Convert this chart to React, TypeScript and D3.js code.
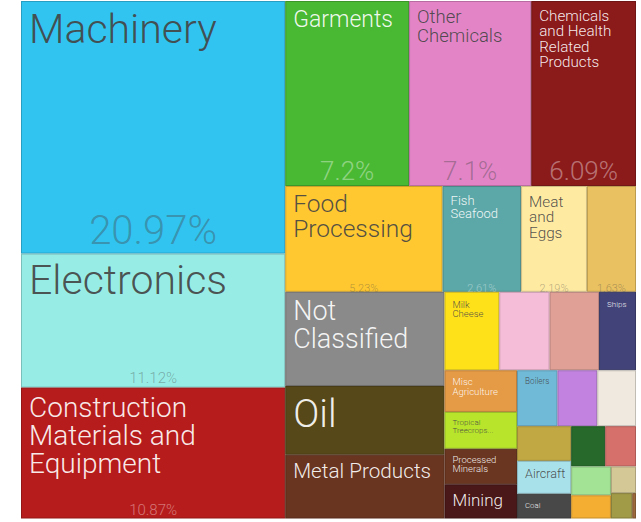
import React from "react";
import * as d3 from "d3";

// ---------- data ----------
const categories: string[] = [
  "Machinery", "Electronics", "Construction Materials and Equipment",
  "Garments", "Other Chemicals", "Chemicals and Health Related Products",
  "Food Processing", "Fish Seafood", "Meat and Eggs", "Cereals and Vegetable Oils",
  "Not Classified", "Oil", "Metal Products",
  "Milk Cheese", "Textile and Fabrics", "Home and Office", "Ships",
  "Misc Agriculture", "Tropical Treecrops and Flowers", "Processed Minerals", "Mining",
  "Boilers", "Leather", "Stone and Glass",
  "Petrochemicals", "Aircraft", "Coal",
  "Vegetables", "Misc Food",
  "Animal Fodder", "Cotton, Rice, Soy and Others",
  "Animal Fibers",
  "Tobacco", "Pulp and Paper",
];

const values: number[] = [
  20.97, 11.12, 10.87,
  7.2, 7.1, 6.09,
  5.23, 2.61, 2.19, 1.63,
  4.71, 3.44, 3.19,
  1.35, 1.24, 1.22, 0.91,
  0.95, 0.84, 0.81, 0.78,
  0.71, 0.70, 0.68,
  0.59, 0.56, 0.42,
  0.43, 0.39,
  0.36, 0.29,
  0.21,
  0.17, 0.03,
];

// strips of the layout: [orientation, number of cells]
const stripPlan: [string, number][] = [
  ["slice", 3], ["dice", 3], ["dice", 4], ["slice", 3], ["dice", 4], ["slice", 4],
  ["dice", 3], ["slice", 3], ["dice", 2], ["slice", 2], ["dice", 1], ["dice", 2],
];

// ---------- styles ----------
const fills: Record<string, string> = {
  "Machinery": "#31c4f1",
  "Electronics": "#97ede6",
  "Construction Materials and Equipment": "#b71c1c",
  "Garments": "#49b833",
  "Other Chemicals": "#e384c7",
  "Chemicals and Health Related Products": "#8b1a1b",
  "Food Processing": "#ffc830",
  "Fish Seafood": "#5ca8a8",
  "Meat and Eggs": "#ffeaa2",
  "Cereals and Vegetable Oils": "#e9c160",
  "Not Classified": "#8a8a8a",
  "Oil": "#574819",
  "Metal Products": "#6a3520",
  "Milk Cheese": "#ffe11a",
  "Textile and Fabrics": "#f6bdd8",
  "Home and Office": "#e0a096",
  "Ships": "#424479",
  "Misc Agriculture": "#e59a45",
  "Tropical Treecrops and Flowers": "#b8e42b",
  "Processed Minerals": "#6a3621",
  "Mining": "#4a1818",
  "Boilers": "#70bad8",
  "Leather": "#c183df",
  "Stone and Glass": "#efe9df",
  "Petrochemicals": "#c2a843",
  "Aircraft": "#a9e1eb",
  "Coal": "#484848",
  "Vegetables": "#26692a",
  "Misc Food": "#d6706b",
  "Animal Fodder": "#a3e395",
  "Cotton, Rice, Soy and Others": "#f4af33",
  "Animal Fibers": "#d5c897",
  "Tobacco": "#a19a47",
  "Pulp and Paper": "#9c6a3c",
};

const lightText = new Set<string>([
  "Construction Materials and Equipment", "Garments", "Chemicals and Health Related Products",
  "Fish Seafood", "Not Classified", "Oil", "Metal Products", "Ships", "Misc Agriculture",
  "Processed Minerals", "Mining", "Coal",
]);

type LabelStyle = { lines: string[]; size: number; dy: number; lh?: number };
const labelStyles: Record<string, LabelStyle> = {
  "Machinery": { lines: ["Machinery"], size: 41, dy: 42 },
  "Electronics": { lines: ["Electronics"], size: 41, dy: 40.5 },
  "Construction Materials and Equipment": { lines: ["Construction", "Materials and", "Equipment"], size: 28, dy: 29.5, lh: 28 },
  "Garments": { lines: ["Garments"], size: 23, dy: 26 },
  "Other Chemicals": { lines: ["Other", "Chemicals"], size: 18.5, dy: 22.3, lh: 18.7 },
  "Chemicals and Health Related Products": { lines: ["Chemicals", "and Health", "Related", "Products"], size: 15.2, dy: 20, lh: 15.3 },
  "Food Processing": { lines: ["Food", "Processing"], size: 24.5, dy: 26, lh: 25 },
  "Fish Seafood": { lines: ["Fish", "Seafood"], size: 13, dy: 19, lh: 13 },
  "Meat and Eggs": { lines: ["Meat", "and", "Eggs"], size: 15.3, dy: 21, lh: 15.3 },
  "Not Classified": { lines: ["Not", "Classified"], size: 27, dy: 28.2, lh: 28 },
  "Oil": { lines: ["Oil"], size: 38.5, dy: 41 },
  "Metal Products": { lines: ["Metal Products"], size: 20.7, dy: 23.7 },
  "Milk Cheese": { lines: ["Milk", "Cheese"], size: 9.5, dy: 16, lh: 9.3 },
  "Ships": { lines: ["Ships"], size: 8, dy: 15 },
  "Misc Agriculture": { lines: ["Misc", "Agriculture"], size: 9.6, dy: 15, lh: 9.3 },
  "Tropical Treecrops and Flowers": { lines: ["Tropical", "Treecrops..."], size: 8, dy: 13, lh: 8.3 },
  "Processed Minerals": { lines: ["Processed", "Minerals"], size: 9.5, dy: 14.7, lh: 9 },
  "Mining": { lines: ["Mining"], size: 17, dy: 22 },
  "Boilers": { lines: ["Boilers"], size: 8.2, dy: 14 },
  "Aircraft": { lines: ["Aircraft"], size: 12.6, dy: 17.3 },
  "Coal": { lines: ["Coal"], size: 7.8, dy: 13.7 },
};

const pctStyles: Record<string, { size: number; dy: number }> = {
  "Machinery": { size: 40, dy: 9.3 },
  "Electronics": { size: 15, dy: 4.5 },
  "Construction Materials and Equipment": { size: 15, dy: 3.5 },
  "Garments": { size: 26, dy: 6 },
  "Other Chemicals": { size: 26, dy: 6 },
  "Chemicals and Health Related Products": { size: 26, dy: 6 },
  "Food Processing": { size: 11, dy: 0 },
  "Fish Seafood": { size: 11, dy: 0 },
  "Meat and Eggs": { size: 11, dy: 0 },
  "Cereals and Vegetable Oils": { size: 11, dy: 0 },
};

const FONT = "Roboto, 'Liberation Sans', Arial, sans-serif";
const W = 641, H = 522;
const OX = 21, OY = 1, TW = 615, TH = 517.5;
const PAD = 8;

function stripTile(parent: any, x0: number, y0: number, x1: number, y1: number) {
  const nodes = parent.children;
  let i = 0;
  let remaining = parent.value;
  for (const [mode, n] of stripPlan) {
    const row = nodes.slice(i, i + n);
    if (!row.length) break;
    const sum = d3.sum(row, (d: any) => d.value);
    const strip = { children: row, value: sum };
    if (mode === "dice") {
      const yy = remaining > 0 ? y0 + ((y1 - y0) * sum) / remaining : y1;
      d3.treemapDice(strip as any, x0, y0, x1, yy);
      y0 = yy;
    } else {
      const xx = remaining > 0 ? x0 + ((x1 - x0) * sum) / remaining : x1;
      d3.treemapSlice(strip as any, x0, y0, xx, y1);
      x0 = xx;
    }
    remaining -= sum;
    i += n;
  }
}

const fmt = (v: number) => `${Number(v.toFixed(2))}%`;

export default function App() {
  const data = categories.map((name, i) => ({ name, value: values[i] }));
  const root = d3.hierarchy<any>({ children: data }).sum((d: any) => d.value ?? 0);
  d3.treemap<any>().tile(stripTile as any).size([TW, TH]).round(false)(root);
  const leaves = root.leaves() as any[];

  return (
    <svg width={W} height={H} style={{ position: "absolute", left: 0, top: 0, display: "block" }}>
      <rect x={0} y={0} width={W} height={H} fill="#ffffff" />
      <g transform={`translate(${OX},${OY})`}>
        {leaves.map((leaf) => {
          const name = leaf.data.name as string;
          const fill = fills[name] ?? "#ccc";
          const stroke = d3.color(fill)!.darker(0.6).formatHex();
          const w = leaf.x1 - leaf.x0;
          const h = leaf.y1 - leaf.y0;
          const tc = lightText.has(name) ? "#ffffff" : "#444444";
          const ls = labelStyles[name];
          const ps = pctStyles[name];
          return (
            <g key={name}>
              <rect
                x={leaf.x0 + 0.5}
                y={leaf.y0 + 0.5}
                width={Math.max(0, w - 1)}
                height={Math.max(0, h - 1)}
                fill={fill}
                stroke={stroke}
                strokeWidth={1}
              />
              {ls && (
                <text
                  fontFamily={FONT}
                  fontWeight={300}
                  fontSize={ls.size}
                  fill={tc}
                  fillOpacity={0.92}
                >
                  {ls.lines.map((line, k) => (
                    <tspan key={k} x={leaf.x0 + PAD} y={leaf.y0 + ls.dy + k * (ls.lh ?? ls.size)}>
                      {line}
                    </tspan>
                  ))}
                </text>
              )}
              {ps && (
                <text
                  x={(leaf.x0 + leaf.x1) / 2}
                  y={leaf.y1 - ps.dy}
                  textAnchor="middle"
                  fontFamily={FONT}
                  fontWeight={300}
                  fontSize={ps.size}
                  fill={tc}
                  fillOpacity={0.4}
                >
                  {fmt(leaf.data.value)}
                </text>
              )}
            </g>
          );
        })}
      </g>
    </svg>
  );
}
